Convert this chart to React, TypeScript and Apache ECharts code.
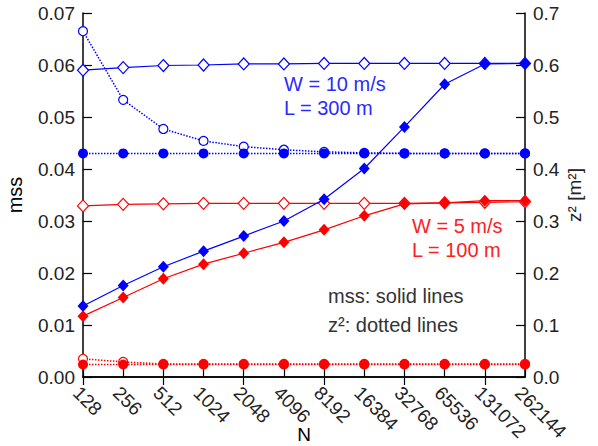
import React, { useEffect, useRef } from "react";
import * as echarts from "echarts";

const categories = ["128", "256", "512", "1024", "2048", "4096", "8192", "16384", "32768", "65536", "131072", "262144"];
const mssTicks = [0, 0.01, 0.02, 0.03, 0.04, 0.05, 0.06, 0.07];

// W = 10 m/s, L = 300 m (blue)
const blueMssOpen = [0.059, 0.0595, 0.0599, 0.06, 0.0602, 0.0602, 0.0603, 0.0603, 0.0603, 0.0603, 0.0603, 0.0603];
const blueMssFilled = [0.01365, 0.0176, 0.0212, 0.0242, 0.0271, 0.03, 0.0342, 0.0401, 0.0481, 0.0563, 0.0602, 0.0603];
const blueZ2Open = [0.665, 0.533, 0.477, 0.454, 0.443, 0.437, 0.433, 0.431, 0.43, 0.43, 0.43, 0.43];
const blueZ2Filled = [0.43, 0.43, 0.43, 0.43, 0.43, 0.43, 0.43, 0.43, 0.43, 0.43, 0.43, 0.43];

// W = 5 m/s, L = 100 m (red)
const redMssOpen = [0.0329, 0.0332, 0.0333, 0.0334, 0.0334, 0.0334, 0.0334, 0.0334, 0.0334, 0.0335, 0.0336, 0.0337];
const redMssFilled = [0.0117, 0.0153, 0.0189, 0.0217, 0.0238, 0.0259, 0.0283, 0.031, 0.0333, 0.0335, 0.0339, 0.0339];
const redZ2Open = [0.035, 0.029, 0.025, 0.025, 0.025, 0.025, 0.025, 0.025, 0.025, 0.025, 0.025, 0.025];
const redZ2Filled = [0.024, 0.024, 0.024, 0.024, 0.024, 0.024, 0.024, 0.024, 0.024, 0.024, 0.024, 0.024];

const BLUE = "#0000ff";
const RED = "#ff0000";
const FONT = "Liberation Sans";
const TXT = "#222";

export default function App() {
  const ref = useRef<HTMLDivElement>(null);
  useEffect(() => {
    const chart = echarts.init(ref.current!, null, { renderer: "svg" });
    const openDiamond = (name: string, data: number[], color: string) => ({
      name, type: "line", data, yAxisIndex: 0,
      symbol: "diamond", symbolSize: [11, 12],
      itemStyle: { color: "#fff", borderColor: color, borderWidth: 1.2 },
      lineStyle: { color, width: 1.2, type: "solid" },
      z: 2,
    });
    const filledDiamond = (name: string, data: number[], color: string) => ({
      name, type: "line", data, yAxisIndex: 0,
      symbol: "diamond", symbolSize: [11, 12],
      itemStyle: { color, borderWidth: 0 },
      lineStyle: { color, width: 1.2, type: "solid" },
      z: 3,
    });
    const openCircle = (name: string, data: number[], color: string) => ({
      name, type: "line", data, yAxisIndex: 1,
      symbol: "circle", symbolSize: 9,
      itemStyle: { color: "#fff", borderColor: color, borderWidth: 1.2 },
      lineStyle: { color, width: 1.5, type: "dotted" },
      z: 2,
    });
    const filledCircle = (name: string, data: number[], color: string) => ({
      name, type: "line", data, yAxisIndex: 1,
      symbol: "circle", symbolSize: 10,
      itemStyle: { color, borderWidth: 0 },
      lineStyle: { color, width: 1.5, type: "dotted" },
      z: 3,
    });
    const axisLine = { show: true, lineStyle: { color: "#000", width: 1.5 } };
    chart.setOption({
      animation: false,
      textStyle: { fontFamily: FONT },
      grid: { left: 83, right: 73, top: 13, bottom: 69, outerBoundsMode: "none", containLabel: false },
      xAxis: [
        {
          type: "category", data: categories, boundaryGap: false, position: "bottom",
          axisLine, axisTick: { show: true, inside: true, length: 8, lineStyle: { color: "#000", width: 1.2 } },
          axisLabel: { rotate: -45, fontSize: 19, color: TXT, margin: 6, fontFamily: FONT, interval: 0, verticalAlign: "top" },
          name: "N", nameLocation: "middle", nameGap: 48, nameMoveOverlap: false,
          nameTextStyle: { fontSize: 19, color: "#000", fontFamily: FONT },
          splitLine: { show: false },
        },
        {
          type: "category", data: categories, boundaryGap: false, position: "top",
          axisLine, axisTick: { show: true, inside: true, length: 8, lineStyle: { color: "#000", width: 1.2 } },
          axisLabel: { show: false }, splitLine: { show: false },
        },
      ],
      yAxis: [
        {
          type: "value", min: 0, max: 0.07, interval: 0.01, position: "left",
          axisLine, axisTick: { show: true, inside: true, length: 9, lineStyle: { color: "#000", width: 1.2 } },
          axisLabel: { fontSize: 19, color: TXT, margin: 8, fontFamily: FONT, formatter: (v: number) => v.toFixed(2) },
          splitLine: { show: false },
          name: "mss", nameLocation: "middle", nameGap: 58, nameRotate: 90, nameMoveOverlap: false,
          nameTextStyle: { fontSize: 20, color: "#000", fontFamily: FONT },
        },
        {
          type: "value", min: 0, max: 0.7, interval: 0.1, position: "right",
          axisLine, axisTick: { show: true, inside: true, length: 9, lineStyle: { color: "#000", width: 1.2 } },
          axisLabel: { fontSize: 19, color: TXT, margin: 8, fontFamily: FONT, formatter: (v: number) => v.toFixed(1) },
          splitLine: { show: false },
          name: "z\u00b2 [m\u00b2]", nameLocation: "middle", nameGap: 40, nameRotate: 90, nameMoveOverlap: false,
          nameTextStyle: { fontSize: 19, color: TXT, fontFamily: FONT },
        },
      ],
      series: [
        openDiamond("blueMssOpen", blueMssOpen, BLUE),
        openDiamond("redMssOpen", redMssOpen, RED),
        openCircle("blueZ2Open", blueZ2Open, BLUE),
        openCircle("redZ2Open", redZ2Open, RED),
        filledDiamond("blueMssFilled", blueMssFilled, BLUE),
        filledDiamond("redMssFilled", redMssFilled, RED),
        filledCircle("blueZ2Filled", blueZ2Filled, BLUE),
        filledCircle("redZ2Filled", redZ2Filled, RED),
      ],
      graphic: [
        { type: "text", left: 284, top: 74, z: 10, style: { text: "W = 10 m/s", fill: "#2b2bff", font: `20px '${FONT}'` } },
        { type: "text", left: 284, top: 98, z: 10, style: { text: "L = 300 m", fill: "#2b2bff", font: `20px '${FONT}'` } },
        { type: "text", left: 412, top: 216, z: 10, style: { text: "W = 5 m/s", fill: "#ff2020", font: `20px '${FONT}'` } },
        { type: "text", left: 412, top: 240, z: 10, style: { text: "L = 100 m", fill: "#ff2020", font: `20px '${FONT}'` } },
        { type: "text", left: 328, top: 286, z: 10, style: { text: "mss: solid lines", fill: "#333", font: `20px '${FONT}'` } },
        { type: "text", left: 328, top: 315, z: 10, style: { text: "z\u00b2: dotted lines", fill: "#333", font: `20px '${FONT}'` } },
      ],
    });
    return () => chart.dispose();
  }, []);
  return <div ref={ref} style={{ width: 598, height: 446, position: "absolute", left: 0, top: 0, background: "#fff" }} />;
}
